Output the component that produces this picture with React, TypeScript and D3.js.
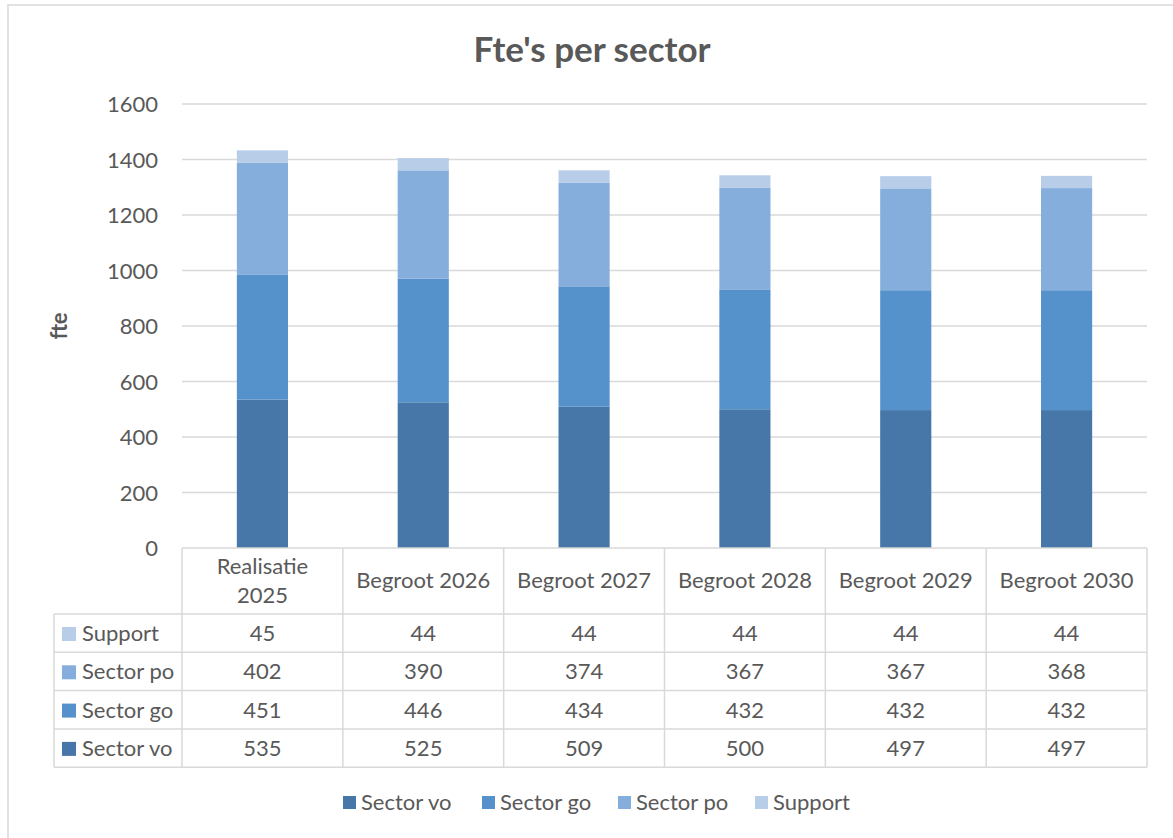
import * as d3 from 'd3';

const categories = ['Realisatie 2025', 'Begroot 2026', 'Begroot 2027', 'Begroot 2028', 'Begroot 2029', 'Begroot 2030'];
const headerLines = [['Realisatie', '2025'], ['Begroot 2026'], ['Begroot 2027'], ['Begroot 2028'], ['Begroot 2029'], ['Begroot 2030']];
const seriesNames = ['Sector vo', 'Sector go', 'Sector po', 'Support'];
const sectorVo = [535, 525, 509, 500, 497, 497];
const sectorGo = [451, 446, 434, 432, 432, 432];
const sectorPo = [402, 390, 374, 367, 367, 368];
const support = [45, 44, 44, 44, 44, 44];
const yTicks = [0, 200, 400, 600, 800, 1000, 1200, 1400, 1600];
const colors = ['#4677A8', '#5592CB', '#86AEDC', '#B7CDE8'];

const W = 1173;
const H = 838;
const FONT = 'Lato, "Open Sans", sans-serif';
const TXT = '#595959';
const GRID = '#d9d9d9';
const FS = 22;

const App = () => {
  const plot = { left: 182, right: 1147, top: 104, bottom: 548 };
  const series = [sectorVo, sectorGo, sectorPo, support];

  const rows = categories.map((c, i) => {
    const r: Record<string, number | string> = { cat: c };
    seriesNames.forEach((s, k) => (r[s] = series[k][i]));
    return r;
  });
  const stacked = d3.stack<Record<string, number | string>>().keys(seriesNames)(rows as any);

  const x = d3.scaleBand().domain(categories).range([plot.left, plot.right]).paddingInner(0).paddingOuter(0);
  const y = d3.scaleLinear().domain([0, 1600]).range([plot.bottom, plot.top]);
  const barW = x.bandwidth() * 0.318;

  // table layout
  const headerBottom = 614;
  const rowH = 38.3;
  const tableLeft = 54;
  const tableRows = [...seriesNames].reverse(); // Support first
  const rowIndex = (name: string) => seriesNames.indexOf(name);

  const legendX = [343, 482, 618, 755];

  return (
    <svg width={W} height={H} style={{ position: 'absolute', left: 0, top: 0, display: 'block' }} fontFamily={FONT}>
      <rect x={0} y={0} width={W} height={H} fill="#fff" />
      <rect x={8} y={5} width={W + 10} height={H + 10} fill="none" stroke={GRID} strokeWidth={1.5} />

      <text x={592} y={62} textAnchor="middle" fontSize={35} fontWeight="bold" fill={TXT}>
        Fte's per sector
      </text>

      {/* gridlines and y ticks */}
      {yTicks.map(t => (
        <g key={t}>
          {t > 0 && <line x1={plot.left} x2={plot.right} y1={y(t)} y2={y(t)} stroke={GRID} strokeWidth={1.5} />}
          <text x={158} y={y(t) + 8} textAnchor="end" fontSize={FS} fill={TXT}>{t}</text>
        </g>
      ))}

      <text transform="translate(67,326) rotate(-90)" textAnchor="middle" fontSize={FS} fontWeight="bold" fill={TXT}>fte</text>

      {/* bars */}
      {stacked.map((layer, k) => (
        <g key={layer.key} fill={colors[k]}>
          {layer.map((d, i) => (
            <rect
              key={i}
              x={(x(categories[i]) || 0) + x.bandwidth() / 2 - barW / 2}
              y={y(d[1])}
              width={barW}
              height={y(d[0]) - y(d[1])}
            />
          ))}
        </g>
      ))}

      {/* data table */}
      <g stroke={GRID} strokeWidth={1.5} fill="none">
        <line x1={plot.left} x2={plot.right} y1={plot.bottom} y2={plot.bottom} />
        {[0, 1, 2, 3, 4].map(r => (
          <line key={r} x1={tableLeft} x2={plot.right} y1={headerBottom + r * rowH} y2={headerBottom + r * rowH} />
        ))}
        <line x1={tableLeft} x2={tableLeft} y1={headerBottom} y2={headerBottom + 4 * rowH} />
        {categories.map(c => (
          <line key={c} x1={x(c) || 0} x2={x(c) || 0} y1={plot.bottom} y2={headerBottom + 4 * rowH} />
        ))}
        <line x1={plot.right} x2={plot.right} y1={plot.bottom} y2={headerBottom + 4 * rowH} />
      </g>

      {headerLines.map((lines, i) => {
        const cx = (x(categories[i]) || 0) + x.bandwidth() / 2;
        if (lines.length === 1) {
          return <text key={i} x={cx} y={588} textAnchor="middle" fontSize={FS} fill={TXT}>{lines[0]}</text>;
        }
        return (
          <text key={i} x={cx} textAnchor="middle" fontSize={FS} fill={TXT}>
            <tspan x={cx} y={574}>{lines[0]}</tspan>
            <tspan x={cx} y={603}>{lines[1]}</tspan>
          </text>
        );
      })}

      {tableRows.map((name, r) => {
        const top = headerBottom + r * rowH;
        const k = rowIndex(name);
        return (
          <g key={name}>
            <rect x={62} y={top + 13} width={14} height={14} fill={colors[k]} />
            <text x={82} y={top + 27} fontSize={FS} fill={TXT}>{name}</text>
            {categories.map((c, i) => (
              <text key={c} x={(x(c) || 0) + x.bandwidth() / 2} y={top + 27} textAnchor="middle" fontSize={FS} fill={TXT}>
                {series[k][i]}
              </text>
            ))}
          </g>
        );
      })}

      {/* legend */}
      {seriesNames.map((name, k) => (
        <g key={name}>
          <rect x={legendX[k]} y={796} width={13} height={13} fill={colors[k]} />
          <text x={legendX[k] + 18} y={810} fontSize={FS} fill={TXT}>{name}</text>
        </g>
      ))}
    </svg>
  );
};

export default App;
